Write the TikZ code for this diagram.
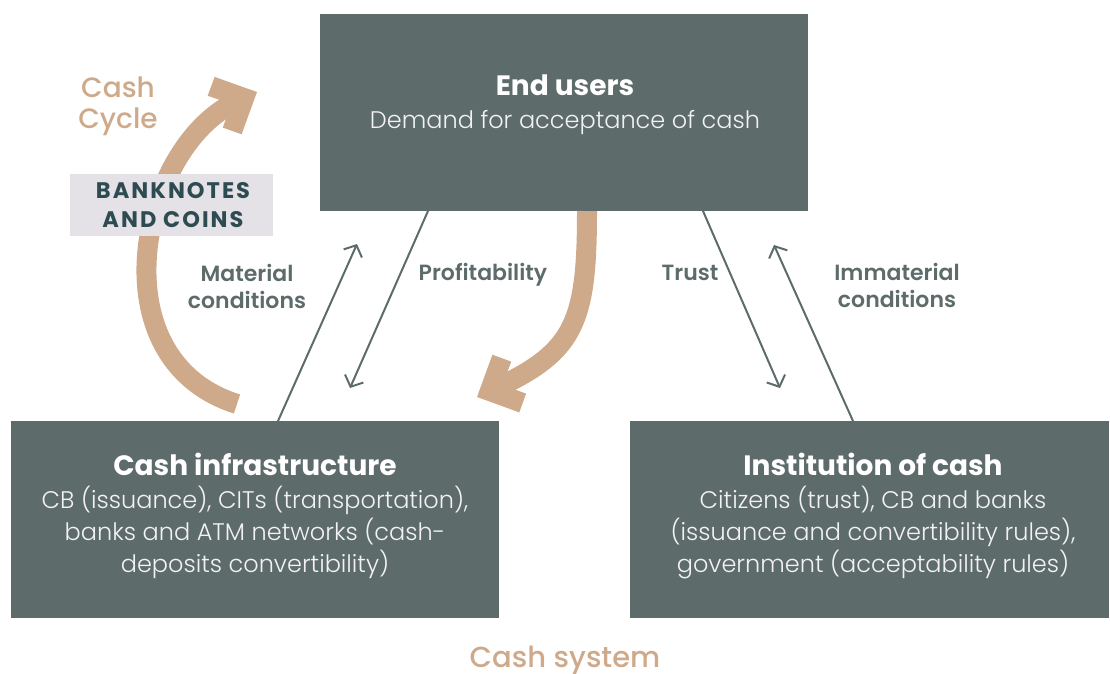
\documentclass[tikz,border=0pt]{standalone}
\usepackage{fontspec}
\setmainfont{Poppins}
\newfontfamily\spacedfont{Poppins}[LetterSpace=9]
\newfontfamily\mediumfont{Poppins}[UprightFont=* Medium]
\newfontfamily\semifont{Poppins}[UprightFont=* SemiBold]
\newfontfamily\lightfont{Poppins}[UprightFont=* Light]
\usetikzlibrary{arrows.meta,calc}
\definecolor{boxgrey}{HTML}{5E6B6B}
\definecolor{cashtan}{HTML}{CEAA8B}
\definecolor{darkteal}{HTML}{2F4B52}
\definecolor{labelbg}{HTML}{E4E2E6}
\definecolor{softwhite}{HTML}{F2F2F2}
\tikzset{
  box/.style={fill=boxgrey, draw=none, inner sep=0pt, outer sep=0pt, anchor=north west},
  boxtitle/.style={text=white, font=\fontsize{28}{32}\selectfont\bfseries, anchor=base, inner sep=0pt},
  boxbody/.style={text=softwhite, font=\fontsize{24}{32}\selectfont\lightfont, anchor=base, inner sep=0pt, align=center},
  lbl/.style={text=boxgrey, font=\fontsize{22}{26.5}\selectfont\semifont, anchor=base, inner sep=0pt, align=center},
  conn/.style={draw=boxgrey, line width=2pt, -{Straight Barb[length=9pt,width=20pt]}},
  cycleshaft/.style={draw=cashtan, line width=20pt},
  cyclehead/.style={fill=cashtan, draw=none},
}
\begin{document}
\begin{tikzpicture}[x=1pt,y=-1pt]
\useasboundingbox (0,0) rectangle (1110,673);
% boxes
\node[box, minimum width=488pt, minimum height=197pt] (users) at (320,14) {};
\node[box, minimum width=488pt, minimum height=197pt] (infra) at (11,421) {};
\node[box, minimum width=479pt, minimum height=197pt] (inst) at (630,421) {};
% box texts
\node[boxtitle] (userst) at (565,95) {End users};
\node[boxbody] (usersb) at (565,128) {Demand for acceptance of cash};
\node[boxtitle] (infrat) at (255,475) {Cash infrastructure};
\node[boxbody] (infrab) at (255,572) {CB (issuance), CITs (transportation),\\banks and ATM networks (cash-\\deposits convertibility)};
\node[boxtitle] (instt) at (873,475) {Institution of cash};
\node[boxbody] (instb) at (873,572) {Citizens (trust), CB and banks\\(issuance and convertibility rules),\\government (acceptability rules)};
% cash cycle arrows
\coordinate (lstart) at (237,404);
\coordinate (lend) at (235.8,102);
\draw[cycleshaft] (lstart) .. controls (94.5,359) and (140.5,146.5) .. (lend);
\fill[cyclehead] (257,92) -- (214.6,76.9) -- (207.7,95.7) -- (231.3,104.1) -- (222.8,127.6) -- (241.6,134.3) -- cycle;
\coordinate (rstart) at (587,211);
\coordinate (rend) at (498.1,387.2);
\draw[cycleshaft] (rstart) .. controls (587,321) and (575,351) .. (rend);
\fill[cyclehead] (477,397) -- (492.4,354.7) -- (511.2,361.6) -- (502.6,385.1) -- (526.1,393.6) -- (519.3,412.4) -- cycle;
% labels
\node[text=cashtan, font=\fontsize{28}{31}\selectfont\mediumfont, anchor=base, align=center, inner sep=0pt] (cyc) at (118,128) {Cash\\Cycle};
\node[fill=labelbg, minimum width=203pt, minimum height=62pt, inner sep=0pt, anchor=north west] (bnbox) at (70,174) {};
\node[text=darkteal, font=\fontsize{22.5}{29}\selectfont\spacedfont\bfseries, anchor=base, align=center, inner sep=0pt] (bn) at (173,227) {BANKNOTES\\AND COINS};
\node[lbl] (mat) at (247,308) {Material\\conditions};
\node[lbl] (prof) at (483,280) {Profitability};
\node[lbl] (trust) at (690,280) {Trust};
\node[lbl] (immat) at (897,307) {Immaterial\\conditions};
\node[text=cashtan, font=\fontsize{29}{32}\selectfont\mediumfont, anchor=base, inner sep=0pt] (sys) at (565,667) {Cash system};
% connectors
\coordinate (matS) at (278,421);
\coordinate (matE) at (357,244);
\coordinate (profS) at (428,211);
\coordinate (profE) at (350,388);
\coordinate (trustS) at (703,211);
\coordinate (trustE) at (780,388);
\coordinate (immS) at (853,421);
\coordinate (immE) at (774,245);
\draw[conn] (matS) -- (matE);
\draw[conn] (profS) -- (profE);
\draw[conn] (trustS) -- (trustE);
\draw[conn] (immS) -- (immE);
\end{tikzpicture}
\end{document}
